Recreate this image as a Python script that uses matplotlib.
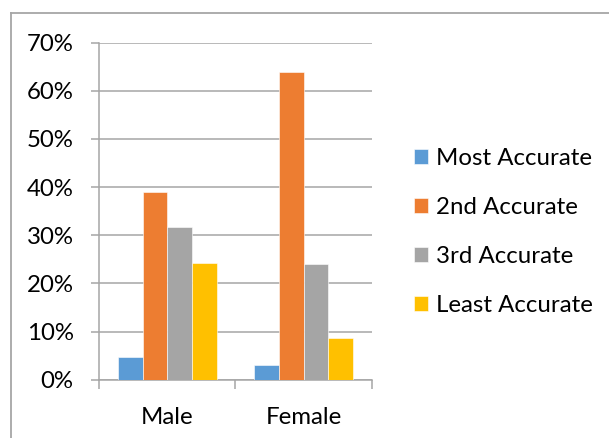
import numpy as np
import matplotlib
matplotlib.use('Agg')
import matplotlib.pyplot as plt
from matplotlib.lines import Line2D
from matplotlib.ticker import FixedLocator, PercentFormatter

categories = ['Male', 'Female']
series_names = ['Most Accurate', '2nd Accurate', '3rd Accurate', 'Least Accurate']
most_accurate = [4.7, 3.1]
second_accurate = [39.0, 64.0]
third_accurate = [31.7, 24.0]
least_accurate = [24.3, 8.7]
y_ticks = [0, 10, 20, 30, 40, 50, 60, 70]

colors = ['#5B9BD5', '#ED7D31', '#A5A5A5', '#FFC000']
grid_color = '#A6A6A6'
font_size = 17.3

plt.rcParams['font.family'] = ['Lato', 'DejaVu Sans']

W, H = 609, 438
fig = plt.figure(figsize=(W / 100, H / 100), dpi=100)

# axes placed to match the pixel layout of the original
left, right, top, bottom = 99.3, 371.7, 42.7, 379.7
ax = fig.add_axes([left / W, 1 - bottom / H, (right - left) / W, (bottom - top) / H])

values = [most_accurate, second_accurate, third_accurate, least_accurate]
x = np.arange(len(categories))
bar_w = 1 / (len(values) + 1.5)
for i, (name, vals) in enumerate(zip(series_names, values)):
    ax.bar(x + (i - 1.5) * bar_w, vals, width=bar_w, color=colors[i],
           edgecolor='white', linewidth=0.4, label=name, zorder=3)

ax.set_xlim(-0.5, len(categories) - 0.5)
ax.set_ylim(0, 70)
ax.set_yticks(y_ticks)
ax.yaxis.set_major_formatter(PercentFormatter(decimals=0))
ax.yaxis.grid(True, color=grid_color, linewidth=1.1, zorder=0)

ax.xaxis.set_major_locator(FixedLocator([-0.5, 0.5, 1.5]))
ax.xaxis.set_major_formatter(plt.NullFormatter())
ax.xaxis.set_minor_locator(FixedLocator(x))
ax.set_xticklabels(categories, minor=True)
ax.tick_params(axis='x', which='major', length=6.5, width=1.1, color=grid_color, direction='out')
ax.tick_params(axis='x', which='minor', length=0, pad=19.5, labelsize=font_size)
ax.tick_params(axis='y', length=6, width=1.1, color=grid_color, direction='out', pad=12.5, labelsize=font_size)

for s in ['top', 'right']:
    ax.spines[s].set_visible(False)
for s in ['left', 'bottom']:
    ax.spines[s].set_color(grid_color)
    ax.spines[s].set_linewidth(1.1)

leg = fig.legend(loc='center left', bbox_to_anchor=(404 / W, 1 - 232 / H),
                 frameon=False, fontsize=font_size, handlelength=0.6, handleheight=0.6,
                 handletextpad=0.35, labelspacing=1.17, borderaxespad=0)

# outer chart border (cropped at right and bottom)
bx, by = 11 / W, 1 - 12.7 / H
fig.add_artist(Line2D([bx, bx], [0, by], color=grid_color, linewidth=1.3, transform=fig.transFigure))
fig.add_artist(Line2D([bx, 1], [by, by], color=grid_color, linewidth=1.3, transform=fig.transFigure))

fig.savefig('out.png', dpi=100)
